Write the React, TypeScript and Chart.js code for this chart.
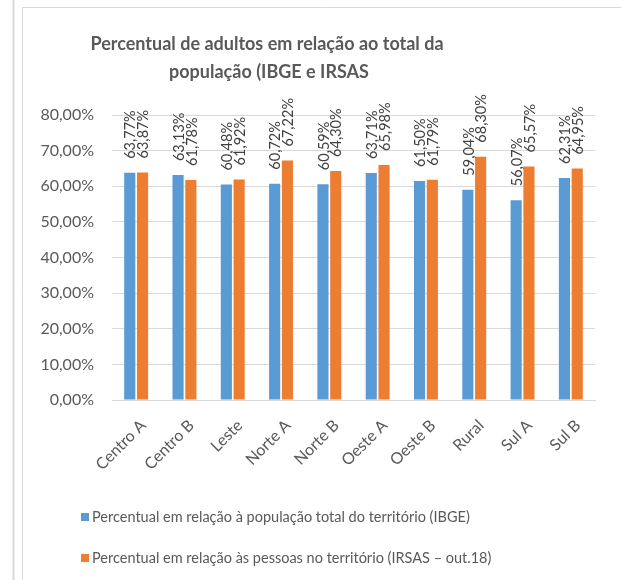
import React, { useEffect, useRef } from "react";
import { Chart, registerables } from "chart.js";

Chart.register(...registerables);

const categories = ["Centro A", "Centro B", "Leste", "Norte A", "Norte B", "Oeste A", "Oeste B", "Rural", "Sul A", "Sul B"];
const ibgeValues = [63.77, 63.13, 60.48, 60.72, 60.59, 63.71, 61.5, 59.04, 56.07, 62.31];
const irsasValues = [63.87, 61.78, 61.92, 67.22, 64.3, 65.98, 61.79, 68.3, 65.57, 64.95];
const seriesNames = [
  "Percentual em relação à população total do território (IBGE)",
  "Percentual em relação às pessoas no território (IRSAS – out.18)",
];
const titleLines = ["Percentual de adultos em relação ao total da", "população (IBGE e IRSAS"];
const colors = ["#5B9BD5", "#ED7D31"];

const FONT = "Lato, 'Open Sans', sans-serif";
const fmt = (v: number) => v.toFixed(2).replace(".", ",") + "%";

const decorPlugin = {
  id: "decor",
  beforeDraw(chart: any) {
    const ctx = chart.ctx;
    ctx.save();
    ctx.fillStyle = "#ffffff";
    ctx.fillRect(0, 0, chart.width, chart.height);
    ctx.strokeStyle = "#d9d9d9";
    ctx.lineWidth = 2;
    ctx.beginPath();
    ctx.moveTo(13.5, 0);
    ctx.lineTo(13.5, chart.height);
    ctx.stroke();
    ctx.lineWidth = 1;
    ctx.beginPath();
    ctx.moveTo(22.5, chart.height);
    ctx.lineTo(22.5, 7.5);
    ctx.lineTo(chart.width, 7.5);
    ctx.stroke();
    ctx.restore();
  },
  afterDraw(chart: any) {
    const ctx = chart.ctx;
    ctx.save();
    // title
    ctx.fillStyle = "#595959";
    ctx.font = `bold 18px ${FONT}`;
    ctx.textAlign = "center";
    ctx.textBaseline = "middle";
    ctx.fillText(titleLines[0], 267, 44);
    ctx.fillText(titleLines[1], 269, 72);
    // data labels
    ctx.font = `14.5px ${FONT}`;
    ctx.fillStyle = "#404040";
    ctx.textAlign = "left";
    ctx.textBaseline = "middle";
    chart.data.datasets.forEach((ds: any, i: number) => {
      const meta = chart.getDatasetMeta(i);
      meta.data.forEach((bar: any, j: number) => {
        ctx.save();
        ctx.translate(bar.x, bar.y - 14);
        ctx.rotate(-Math.PI / 2);
        ctx.fillText(fmt(ds.data[j]), 0, 1);
        ctx.restore();
      });
    });
    // legend
    ctx.font = `14.5px ${FONT}`;
    const ys = [517, 558];
    seriesNames.forEach((name, i) => {
      ctx.fillStyle = colors[i];
      ctx.fillRect(81, ys[i] - 4, 8, 8);
      ctx.fillStyle = "#595959";
      ctx.fillText(name, 92, ys[i]);
    });
    ctx.restore();
  },
};

export default function App() {
  const ref = useRef<HTMLCanvasElement>(null);
  useEffect(() => {
    document.body.style.margin = "0";
    const chart = new Chart(ref.current!, {
      type: "bar",
      data: {
        labels: categories,
        datasets: [
          { label: seriesNames[0], data: ibgeValues, backgroundColor: colors[0], categoryPercentage: 0.53, barPercentage: 0.87 },
          { label: seriesNames[1], data: irsasValues, backgroundColor: colors[1], categoryPercentage: 0.53, barPercentage: 0.87 },
        ],
      },
      options: {
        responsive: false,
        animation: false,
        layout: { padding: { left: 22, right: 26, top: 115, bottom: 80 } },
        plugins: { legend: { display: false }, title: { display: false }, tooltip: { enabled: false } },
        scales: {
          x: {
            afterFit: (s: any) => { s.height = 100; },
            grid: { display: false, drawTicks: false },
            border: { color: "#d9d9d9", width: 1 },
            ticks: { color: "#595959", font: { family: FONT, size: 16 }, maxRotation: 45, minRotation: 45, padding: 16, labelOffset: 7 },
          },
          y: {
            min: 0,
            max: 80,
            afterFit: (s: any) => { s.width = 90; },
            grid: { color: "#d9d9d9", drawTicks: false },
            border: { display: false },
            ticks: {
              stepSize: 10,
              color: "#595959",
              font: { family: FONT, size: 16 },
              padding: 18,
              callback: (v: any) => Number(v).toFixed(2).replace(".", ",") + "%",
            },
          },
        },
      },
      plugins: [decorPlugin],
    });
    return () => chart.destroy();
  }, []);
  return (
    <div style={{ width: 621, height: 580 }}>
      <canvas ref={ref} width={621} height={580} />
    </div>
  );
}
